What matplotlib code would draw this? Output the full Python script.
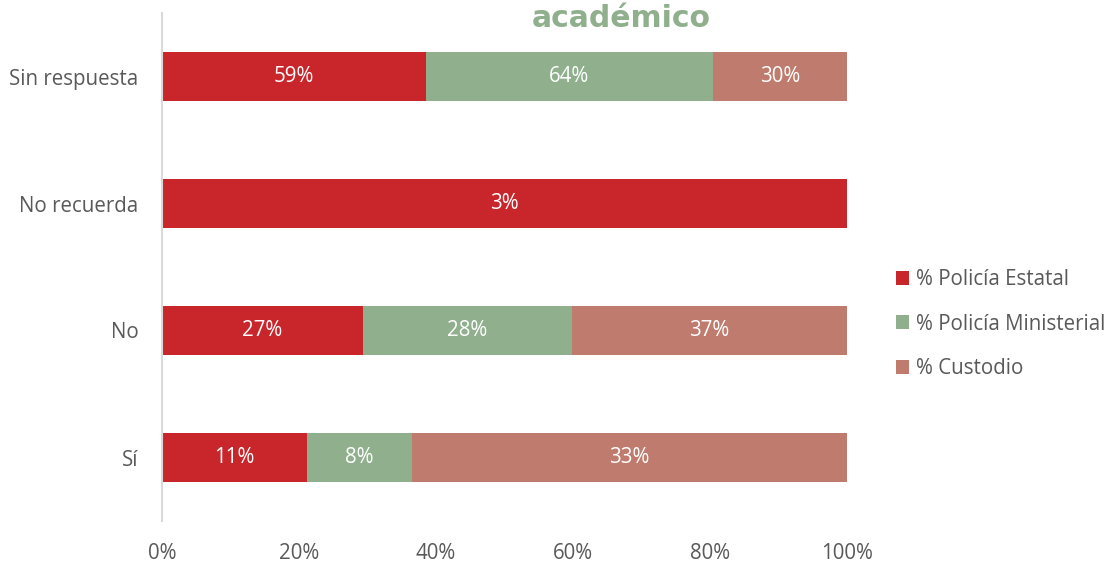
import numpy as np
import matplotlib
matplotlib.use("Agg")
from matplotlib import pyplot as plt

categories = ["Sí", "No", "No recuerda", "Sin respuesta"]
series_names = ["% Policía Estatal", "% Policía Ministerial", "% Custodio"]
estatal = [11, 27, 3, 59]
ministerial = [8, 28, 0, 64]
custodio = [33, 37, 0, 30]
colors = ["#C9262C", "#8FAF8D", "#BF7B6E"]
xticks = [0, 20, 40, 60, 80, 100]

plt.rcParams["font.family"] = ["Open Sans", "DejaVu Sans"]
fs = 14.8
txt = "#595959"

fig = plt.figure(figsize=(11.1, 5.63), dpi=100)
ax = fig.add_axes([162 / 1110, 1 - 521 / 563, 685 / 1110, 508 / 563])

vals = np.array([estatal, ministerial, custodio], dtype=float)
totals = vals.sum(axis=0)
shares = vals / totals * 100
y = np.arange(len(categories))
left = np.zeros(len(categories))
for i, name in enumerate(series_names):
    ax.barh(y, shares[i], left=left, height=0.39, color=colors[i], label=name)
    for j in range(len(categories)):
        if vals[i, j] > 0:
            ax.text(left[j] + shares[i, j] / 2, y[j], "{:d}%".format(int(vals[i, j])),
                    ha="center", va="center", color="white", fontsize=fs)
    left += shares[i]

ax.set_xlim(0, 100)
ax.set_ylim(-0.5, 3.5)
ax.set_yticks(y)
ax.set_yticklabels(categories, fontsize=fs, color=txt)
ax.set_xticks(xticks)
ax.set_xticklabels(["{}%".format(t) for t in xticks], fontsize=fs, color=txt)
ax.tick_params(length=0)
ax.tick_params(axis="x", pad=15.5)
ax.tick_params(axis="y", pad=17)
for s in ["top", "right", "bottom"]:
    ax.spines[s].set_visible(False)
ax.spines["left"].set_color("#D9D9D9")
ax.spines["left"].set_linewidth(1.5)

ax.legend(loc="center left", bbox_to_anchor=(877 / 1110, 1 - 324 / 563), bbox_transform=fig.transFigure,
          frameon=False, fontsize=fs, handlelength=0.68, handleheight=0.68,
          labelspacing=1.15, handletextpad=0.34, labelcolor=txt)

fig.text(621 / 1110, 1 - 27 / 563, "académico", ha="center", va="baseline",
         fontsize=21.5, fontweight="bold", color="#8FAF8D", family=["DejaVu Sans"])

fig.savefig("out.png", dpi=100)
